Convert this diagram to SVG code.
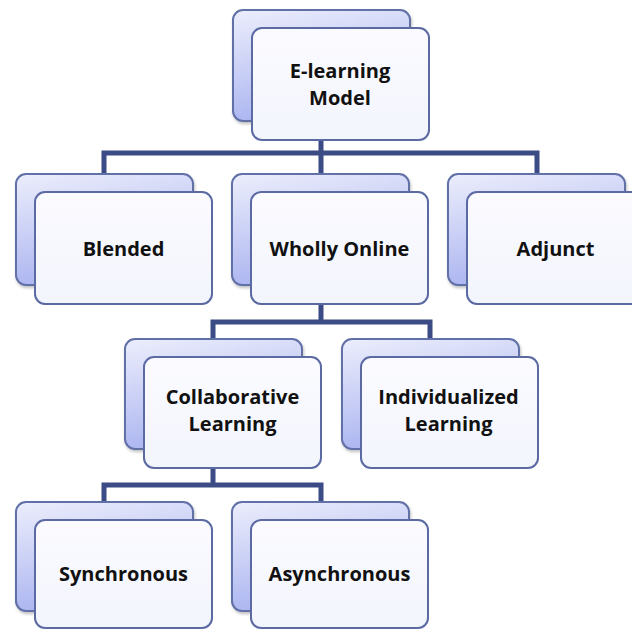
<svg xmlns="http://www.w3.org/2000/svg" width="632" height="631" viewBox="0 0 632 631">
<defs>
<linearGradient id="backGrad" x1="0" y1="0" x2="0.3" y2="1">
<stop offset="0" stop-color="#eceefc"/>
<stop offset="1" stop-color="#a9b3f0"/>
</linearGradient>
<linearGradient id="frontGrad" x1="0" y1="0" x2="0" y2="1">
<stop offset="0" stop-color="#fbfbff"/>
<stop offset="1" stop-color="#f3f5fd"/>
</linearGradient>
<filter id="shadow" x="-10%" y="-10%" width="125%" height="130%">
<feDropShadow dx="1" dy="2" stdDeviation="1.5" flood-color="#000" flood-opacity="0.25"/>
</filter>
</defs>
<style>
.back{fill:url(#backGrad);stroke:#6270a8;stroke-width:2;filter:url(#shadow)}
.front{fill:url(#frontGrad);stroke:#5b6aa3;stroke-width:2}
.conn{fill:none;stroke:#3b4b85;stroke-width:5;stroke-linejoin:miter;stroke-linecap:butt}
.lbl{font-family:"Open Sans","Noto Sans","Liberation Sans",sans-serif;font-weight:700;font-size:20px;fill:#111;text-anchor:middle}
</style>
<rect width="632" height="631" fill="#ffffff"/>
<g id="connectors">
<path class="conn" d="M321,140 V153 M104,176 V153 H537 V176 M321,153 V176"/>
<path class="conn" d="M321,303 V322 M213,341 V322 H430 V341"/>
<path class="conn" d="M213,468 V485 M104,504 V485 H321 V504"/>
</g>
<g id="model">
<rect class="back" x="233" y="10" width="177" height="111" rx="10"/>
<rect class="front" x="252" y="28" width="177" height="112" rx="10"/>
<text class="lbl" x="340" y="78">E-learning</text>
<text class="lbl" x="340" y="105">Model</text>
</g>
<g id="blended">
<rect class="back" x="16" y="174" width="177" height="111" rx="10"/>
<rect class="front" x="35" y="192" width="177" height="112" rx="10"/>
<text class="lbl" x="123.5" y="256">Blended</text>
</g>
<g id="wholly">
<rect class="back" x="232" y="174" width="177" height="111" rx="10"/>
<rect class="front" x="251" y="192" width="177" height="112" rx="10"/>
<text class="lbl" x="339.5" y="256">Wholly Online</text>
</g>
<g id="adjunct">
<rect class="back" x="448" y="174" width="177" height="111" rx="10"/>
<rect class="front" x="467" y="192" width="177" height="112" rx="10"/>
<text class="lbl" x="555.5" y="256">Adjunct</text>
</g>
<g id="collab">
<rect class="back" x="125" y="339" width="177" height="110" rx="10"/>
<rect class="front" x="144" y="357" width="177" height="111" rx="10"/>
<text class="lbl" x="232.5" y="404">Collaborative</text>
<text class="lbl" x="232.5" y="431">Learning</text>
</g>
<g id="indiv">
<rect class="back" x="342" y="339" width="177" height="110" rx="10"/>
<rect class="front" x="361" y="357" width="177" height="111" rx="10"/>
<text class="lbl" x="448.5" y="404">Individualized</text>
<text class="lbl" x="448.5" y="431">Learning</text>
</g>
<g id="sync">
<rect class="back" x="16" y="502" width="177" height="109" rx="10"/>
<rect class="front" x="35" y="520" width="177" height="108" rx="10"/>
<text class="lbl" x="123.5" y="581">Synchronous</text>
</g>
<g id="async">
<rect class="back" x="232" y="502" width="177" height="109" rx="10"/>
<rect class="front" x="251" y="520" width="177" height="108" rx="10"/>
<text class="lbl" x="339.5" y="581">Asynchronous</text>
</g>
</svg>
